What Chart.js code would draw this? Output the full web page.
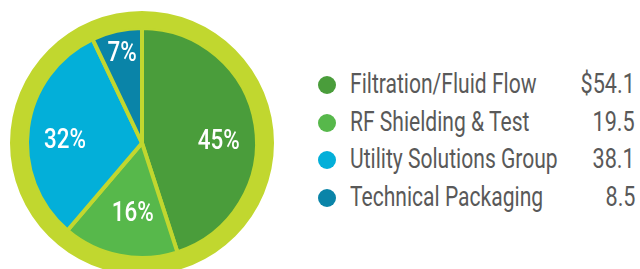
<!DOCTYPE html>
<html>
<head>
<meta charset="utf-8">
<script src="https://cdn.jsdelivr.net/npm/chart.js@4/dist/chart.umd.min.js"></script>
<style>
  html, body { margin: 0; padding: 0; background: #fff; }
  body { width: 640px; height: 269px; overflow: hidden; position: relative; }
  #pieWrap { position: absolute; left: 10px; top: 11px; width: 264px; height: 264px; }
  #legend { position: absolute; left: 318px; top: 66px; width: 320px; font-family: Roboto, sans-serif; color: #595959; }
  .row { position: relative; height: 37.5px; }
  .dot { position: absolute; left: 0; top: 10px; width: 18px; height: 18px; border-radius: 50%; }
  .lbl, .val { position: absolute; top: 3px; font-size: 27px; line-height: 30px; white-space: nowrap; }
  .lbl { left: 32px; transform: scaleX(0.78); transform-origin: left center; }
  .val { right: 3px; transform: scaleX(0.8); transform-origin: right center; }
</style>
</head>
<body>
<div id="pieWrap"><canvas id="pie"></canvas></div>
<div id="legend"></div>
<script>
// segment data, clockwise from 12 o'clock
const categories = ["Filtration/Fluid Flow", "RF Shielding & Test", "Utility Solutions Group", "Technical Packaging"];
const values = [54.1, 19.5, 38.1, 8.5];
const valueLabels = ["$54.1", "19.5", "38.1", "8.5"];
const colors = ["#4a9d3b", "#57b84b", "#03afd9", "#0a84a8"];
const ringColor = "#c1d72f";

// legend (html so the values can be right aligned)
const legend = document.getElementById("legend");
categories.forEach((name, i) => {
  const row = document.createElement("div");
  row.className = "row";
  row.innerHTML = '<span class="dot" style="background:' + colors[i] + '"></span>' +
    '<span class="lbl"></span><span class="val"></span>';
  row.querySelector(".lbl").textContent = name;
  row.querySelector(".val").textContent = valueLabels[i];
  legend.appendChild(row);
});

// percent labels inside the slices, small nudges so they sit like the original
const labelNudge = [[4, 10], [5, -1], [-4, 8], [0, -2]];
const percentLabels = {
  id: "percentLabels",
  afterDatasetsDraw(chart) {
    const meta = chart.getDatasetMeta(1);
    const total = values.reduce((a, b) => a + b, 0);
    const ctx = chart.ctx;
    ctx.save();
    ctx.fillStyle = "#fff";
    ctx.font = "500 28px Roboto, sans-serif";
    ctx.textAlign = "center";
    ctx.textBaseline = "middle";
    meta.data.forEach((arc, i) => {
      const pct = Math.round(values[i] / total * 100);
      const mid = (arc.startAngle + arc.endAngle) / 2;
      const f = pct < 10 ? 0.78 : 0.64;
      const x = arc.x + Math.cos(mid) * arc.outerRadius * f + labelNudge[i][0];
      const y = arc.y + Math.sin(mid) * arc.outerRadius * f + labelNudge[i][1];
      ctx.save();
      ctx.translate(x, y);
      ctx.scale(0.8, 1);
      ctx.fillText(pct + "%", 0, 0);
      ctx.restore();
    });
    ctx.restore();
  }
};

new Chart(document.getElementById("pie"), {
  type: "doughnut",
  data: {
    labels: categories,
    datasets: [
      {
        // outer lime ring
        data: [1],
        backgroundColor: [ringColor],
        borderWidth: 0,
        weight: 17
      },
      {
        data: values,
        backgroundColor: colors,
        borderColor: ringColor,
        borderWidth: 4,
        borderJoinStyle: "bevel",
        weight: 115
      }
    ]
  },
  options: {
    responsive: true,
    maintainAspectRatio: false,
    animation: false,
    cutout: 0,
    events: [],
    layout: { padding: 0 },
    plugins: {
      legend: { display: false },
      tooltip: { enabled: false }
    }
  },
  plugins: [percentLabels]
});
</script>
</body>
</html>
